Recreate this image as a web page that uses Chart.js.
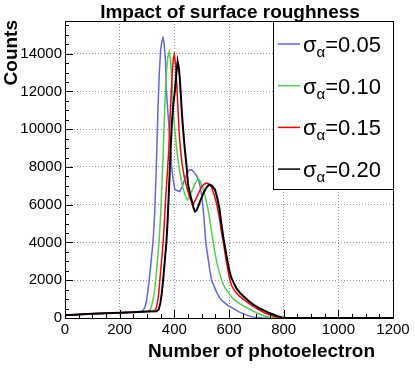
<!DOCTYPE html>
<html><head><meta charset="utf-8">
<script src="https://cdn.jsdelivr.net/npm/chart.js@4.4.1/dist/chart.umd.min.js"></script>
<style>html,body{margin:0;padding:0;background:#fff;}#wrap{width:415px;height:369px;}</style>
</head><body><div id="wrap"><canvas id="c" width="415" height="369"></canvas></div>
<script>
// ---- data ----
const chartTitle = 'Impact of surface roughness';
const xAxisTitle = 'Number of photoelectron';
const yAxisTitle = 'Counts';
const xTickValues = [0, 200, 400, 600, 800, 1000, 1200];
const yTickValues = [0, 2000, 4000, 6000, 8000, 10000, 12000, 14000];
const seriesLabels = ['0.05', '0.10', '0.15', '0.20'];

// [number of photoelectrons, counts]
const sigma005 = [[0,150],[50,190],[100,220],[150,250],[200,280],[250,310],[275,340],[285,400],[292,550],[298,900],[303,1400],[308,2000],[315,3000],[322,4000],[328,5500],[334,8000],[340,11000],[345,13000],[350,14200],[355,14700],[358,14900],[362,14600],[367,13800],[371,12000],[376,11000],[381,10000],[386,9000],[390,8000],[396,7300],[402,6800],[410,6750],[420,6700],[430,7000],[439,7400],[448,7700],[456,7850],[463,7850],[470,7750],[480,7550],[487,7400],[494,7000],[500,6500],[505,5800],[509,5200],[515,4000],[522,3300],[529,2600],[536,2000],[545,1700],[555,1350],[567,1050],[580,850],[595,680],[616,500],[640,300],[665,150],[685,60],[700,20],[720,0],[1200,0]];
const sigma010 = [[0,150],[50,190],[100,220],[150,250],[200,280],[250,310],[290,340],[305,360],[312,450],[318,700],[324,1100],[328,1500],[332,2000],[338,3000],[344,4000],[350,5500],[356,7500],[361,9500],[366,11500],[371,13000],[376,13800],[381,14100],[386,13700],[390,12800],[393,12000],[398,10500],[402,10000],[408,9000],[417,8000],[425,7300],[433,6800],[441,6450],[448,6250],[455,6400],[463,6700],[472,7000],[481,7250],[487,7380],[493,7300],[500,7050],[506,6800],[515,6300],[524,5700],[532,5000],[540,4200],[548,3500],[556,2900],[565,2400],[573,2000],[585,1600],[600,1300],[616,1000],[640,750],[671,500],[700,280],[725,130],[750,30],[770,0],[1200,0]];
const sigma015 = [[0,150],[50,190],[100,220],[150,250],[200,280],[250,310],[300,340],[325,370],[333,480],[338,800],[343,1300],[347,2000],[353,3000],[359,4000],[364,5200],[369,6500],[375,7800],[380,9000],[384,10500],[389,12000],[393,13200],[397,13800],[400,13950],[404,13500],[408,12600],[412,11500],[417,10000],[422,9000],[428,8200],[436,7500],[445,6950],[455,6450],[463,6150],[469,6050],[476,6200],[485,6500],[493,6750],[500,6950],[510,7100],[518,7150],[526,7100],[536,6950],[545,6550],[555,6050],[561,5600],[567,5100],[573,4500],[580,3950],[587,3300],[594,2700],[601,2150],[610,1700],[620,1450],[635,1200],[652,1000],[670,800],[690,600],[708,450],[730,280],[755,130],[775,40],[790,0],[1200,0]];
const sigma020 = [[0,150],[50,190],[100,220],[150,250],[200,280],[250,310],[300,340],[335,360],[343,450],[349,800],[354,1300],[359,2000],[365,3000],[371,4000],[376,5300],[381,7000],[386,8800],[391,10300],[396,11300],[402,12000],[407,12900],[412,13600],[416,13300],[420,12700],[423,12000],[427,11000],[432,10000],[438,9000],[445,8000],[450,7100],[457,6600],[463,6260],[469,5900],[475,5640],[481,5700],[487,5900],[495,6200],[506,6600],[515,6850],[523,7000],[530,7060],[538,7000],[549,6790],[558,6300],[565,5800],[572,5000],[579,4300],[585,3800],[592,3200],[600,2600],[608,2150],[616,1900],[628,1550],[642,1300],[657,1100],[672,900],[690,700],[710,520],[726,420],[750,250],[775,110],[795,30],[812,0],[1200,0]];

const seriesData = [sigma005, sigma010, sigma015, sigma020];
const seriesColors = ['#6464e6', '#4cd24c', '#ff0000', '#000000'];
const seriesWidths = [1.5, 1.5, 1.5, 2];

const FONT = "'Liberation Sans', Arial, Helvetica, sans-serif";

const decor = {
  id: 'decor',
  afterDatasetsDraw(chart) {
    const ctx = chart.ctx, a = chart.chartArea;
    const xs = chart.scales.x, ys = chart.scales.y;
    ctx.save();
    ctx.strokeStyle = '#000';
    ctx.lineWidth = 1;
    // inward ticks
    ctx.beginPath();
    for (let v = 0; v <= 1200; v += 50) {
      const px = Math.round(xs.getPixelForValue(v)) + 0.5;
      const len = (v % 200 === 0) ? 8 : 4;
      ctx.moveTo(px, a.bottom); ctx.lineTo(px, a.bottom - len);
    }
    for (let v = 0; v <= 15500; v += 500) {
      const py = Math.round(ys.getPixelForValue(v)) + 0.5;
      const len = (v % 2000 === 0) ? 8 : 4;
      ctx.moveTo(a.left, py); ctx.lineTo(a.left + len, py);
    }
    ctx.stroke();
    // frame
    ctx.strokeRect(Math.round(a.left) + 0.5, Math.round(a.top) + 0.5,
                   Math.round(a.right - a.left), Math.round(a.bottom - a.top));
    // legend
    const lx0 = 273.5, ly0 = Math.round(a.top) + 0.5, lx1 = Math.round(a.right) + 0.5, ly1 = 189.5;
    ctx.fillStyle = '#fff';
    ctx.fillRect(lx0, ly0, lx1 - lx0, ly1 - ly0);
    ctx.strokeRect(lx0, ly0, lx1 - lx0, ly1 - ly0);
    seriesLabels.forEach((lab, i) => {
      const y = 44 + i * 41.7;
      ctx.strokeStyle = seriesColors[i];
      ctx.lineWidth = 1.5;
      ctx.beginPath(); ctx.moveTo(278, y); ctx.lineTo(300, y); ctx.stroke();
      ctx.fillStyle = '#000';
      ctx.textBaseline = 'alphabetic';
      ctx.textAlign = 'left';
      const base = y + 8;
      ctx.font = '22px ' + FONT;
      ctx.fillText('σ', 303, base);
      let x = 303 + ctx.measureText('σ').width;
      ctx.font = '15px ' + FONT;
      ctx.fillText('α', x, base + 5);
      x += ctx.measureText('α').width;
      ctx.font = '22px ' + FONT;
      ctx.fillText('=' + lab, x, base);
    });
    // titles
    ctx.fillStyle = '#000';
    ctx.font = 'bold 19px ' + FONT;
    ctx.textAlign = 'center'; ctx.textBaseline = 'alphabetic';
    ctx.fillText(chartTitle, 230, 18);
    ctx.textAlign = 'right';
    ctx.fillText(xAxisTitle, 375, 357);
    ctx.save();
    ctx.translate(17, 20);
    ctx.rotate(-Math.PI / 2);
    ctx.textAlign = 'right';
    ctx.fillText(yAxisTitle, 0, 0);
    ctx.restore();
    ctx.restore();
  }
};

new Chart(document.getElementById('c').getContext('2d'), {
  type: 'line',
  data: {
    datasets: seriesData.map((d, i) => ({
      label: 'σα=' + seriesLabels[i],
      data: d.map(p => ({x: p[0], y: p[1]})),
      borderColor: seriesColors[i],
      borderWidth: seriesWidths[i],
      pointRadius: 0,
      tension: 0,
      fill: false,
      order: 3 - i
    }))
  },
  options: {
    responsive: false,
    animation: false,
    events: [],
    layout: {padding: {top: 21, right: 22, left: 0, bottom: 0}},
    plugins: {legend: {display: false}, title: {display: false}, tooltip: {enabled: false}},
    scales: {
      x: {
        type: 'linear', min: 0, max: 1200,
        afterBuildTicks: s => { s.ticks = xTickValues.map(v => ({value: v})); },
        afterFit: s => { s.height = 51; },
        ticks: {autoSkip: false, maxRotation: 0, padding: 3, color: '#000', font: {family: FONT, size: 15},
                callback: v => String(v)},
        grid: {color: '#999', lineWidth: 1, drawTicks: false},
        border: {display: false, dash: [1, 2]}
      },
      y: {
        type: 'linear', min: 0, max: 15730,
        afterBuildTicks: s => { s.ticks = yTickValues.map(v => ({value: v})); },
        afterFit: s => { s.width = 65; },
        ticks: {autoSkip: false, padding: 3, color: '#000', font: {family: FONT, size: 15},
                callback: v => String(v)},
        grid: {color: '#999', lineWidth: 1, drawTicks: false},
        border: {display: false, dash: [1, 2]}
      }
    }
  },
  plugins: [decor]
});
</script>
</body></html>
